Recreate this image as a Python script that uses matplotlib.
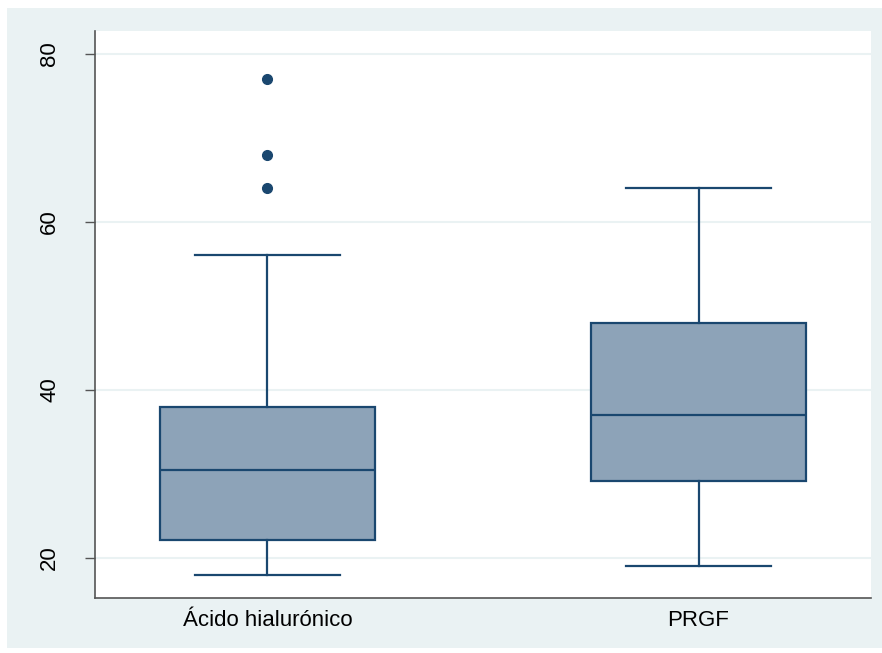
import matplotlib
matplotlib.use("Agg")
import matplotlib.pyplot as plt
from matplotlib.patches import Rectangle

plt.rcParams['font.family'] = ['Liberation Sans', 'DejaVu Sans']

# box summary
groups = ['Ácido hialurónico', 'PRGF']
whislo = [18, 19]
q1 = [22.1, 29.2]
med = [30.5, 37]
q3 = [38, 48]
whishi = [56, 64]
fliers = [[64, 68, 77], []]
yticks = [20, 40, 60, 80]

navy = '#1A476F'
fill = '#8DA3B8'
bg = '#EAF2F3'

fig = plt.figure(figsize=(8.82, 6.53), dpi=100, facecolor='white')
W, H = 882, 653
fig.patches.append(Rectangle((7 / W, 5 / H), 1 - 7 / W, (648 - 8) / H,
                             transform=fig.transFigure, facecolor=bg,
                             edgecolor='none', zorder=-10))
ax = fig.add_axes([95 / W, (H - 598) / H, (871 - 95) / W, (598 - 31) / H])
ax.set_facecolor('white')

stats = []
for i in range(len(groups)):
    stats.append({'label': groups[i], 'whislo': whislo[i], 'q1': q1[i],
                  'med': med[i], 'q3': q3[i], 'whishi': whishi[i],
                  'fliers': fliers[i]})

ax.bxp(stats, positions=[1, 2], widths=0.5, patch_artist=True,
       showfliers=True, capwidths=0.335,
       boxprops=dict(facecolor=fill, edgecolor=navy, linewidth=1.6),
       medianprops=dict(color=navy, linewidth=1.6),
       whiskerprops=dict(color=navy, linewidth=1.6),
       capprops=dict(color=navy, linewidth=1.6),
       flierprops=dict(marker='o', markerfacecolor=navy, markeredgecolor=navy,
                       markersize=7))

ax.set_xlim(0.6, 2.4)
ax.set_ylim(15.24, 82.7)
ax.set_yticks(yticks)
ax.set_yticklabels([str(t) for t in yticks], rotation=90, va='center')
ax.yaxis.grid(True, color=bg, linewidth=1.5)
ax.set_axisbelow(True)

for s in ['top', 'right']:
    ax.spines[s].set_visible(False)
for s in ['left', 'bottom']:
    ax.spines[s].set_color('#555555')
    ax.spines[s].set_linewidth(1.2)

ax.tick_params(axis='y', length=7, width=1, color='#555555', pad=18,
               labelsize=16)
ax.tick_params(axis='x', length=0, pad=9, labelsize=16)

fig.savefig('out.png', dpi=100, facecolor=fig.get_facecolor())
